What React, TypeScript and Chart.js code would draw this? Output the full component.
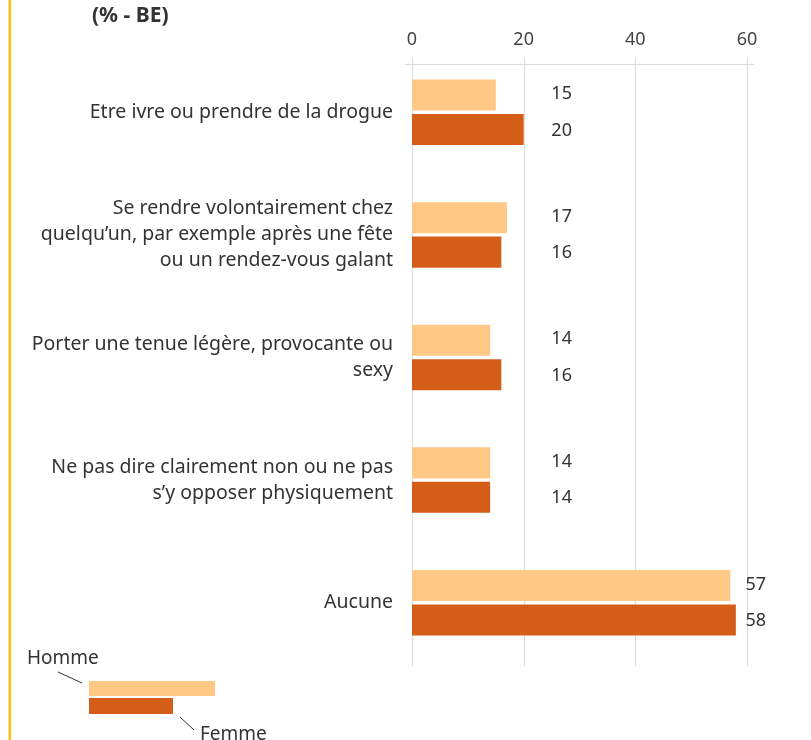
import React, { useEffect, useRef } from "react";
import Chart from "chart.js/auto";

const categories: string[][] = [
  ["Etre ivre ou prendre de la drogue"],
  ["Se rendre volontairement chez", "quelqu’un, par exemple après une fête", "ou un rendez-vous galant"],
  ["Porter une tenue légère, provocante ou", "sexy"],
  ["Ne pas dire clairement non ou ne pas", "s’y opposer physiquement"],
  ["Aucune"],
];
const hommeValues = [15, 17, 14, 14, 57];
const femmeValues = [20, 16, 16, 14, 58];
const xTicks = [0, 20, 40, 60];
const seriesNames = ["Homme", "Femme"];
const chartTitle = "(% - BE)";

const FONT = "'Noto Sans', 'Open Sans', sans-serif";
const COLOR_HOMME = "#FFC885";
const COLOR_FEMME = "#D45D17";
const TEXT = "#333333";
const GRID = "#dcdcdc";
const LABEL_COLUMN = 26.8; // value-label column (data units)

export default function App() {
  const ref = useRef<HTMLCanvasElement | null>(null);

  useEffect(() => {
    document.body.style.margin = "0";
    const canvas = ref.current;
    if (!canvas) return;

    const decor = {
      id: "decor",
      beforeDatasetsDraw(chart: any) {
        const ctx = chart.ctx;
        const xs = chart.scales.x;
        const area = chart.chartArea;
        ctx.save();
        ctx.strokeStyle = GRID;
        ctx.lineWidth = 1;
        ctx.beginPath();
        ctx.moveTo(xs.getPixelForValue(xTicks[0]) - 7, area.top + 13.5);
        ctx.lineTo(xs.getPixelForValue(xTicks[xTicks.length - 1]) + 7, area.top + 13.5);
        ctx.stroke();
        xTicks.forEach((v) => {
          const px = Math.round(xs.getPixelForValue(v)) + 0.5;
          ctx.beginPath();
          ctx.moveTo(px, area.top + 7);
          ctx.lineTo(px, area.bottom + 2);
          ctx.stroke();
        });
        ctx.restore();
      },
      afterDraw(chart: any) {
        const ctx = chart.ctx;
        const xs = chart.scales.x;
        ctx.save();
        ctx.fillStyle = "#FFC20E";
        ctx.fillRect(8.5, 0, 2.5, chart.height);
        ctx.fillStyle = TEXT;
        ctx.font = `bold 21px ${FONT}`;
        ctx.textAlign = "left";
        ctx.textBaseline = "middle";
        ctx.fillText(chartTitle, 92, 16);
        ctx.font = `18px ${FONT}`;
        ctx.textAlign = "center";
        ctx.textBaseline = "middle";
        const m0 = chart.getDatasetMeta(0);
        const m1 = chart.getDatasetMeta(1);
        categories.forEach((_, i) => {
          const b0 = m0.data[i];
          const b1 = m1.data[i];
          const end = Math.max(b0.x, b1.x);
          const cx = Math.max(xs.getPixelForValue(LABEL_COLUMN), end + 20);
          ctx.fillText(String(hommeValues[i]), cx, b0.y - 1);
          ctx.fillText(String(femmeValues[i]), cx, b1.y + 1);
        });
        ctx.font = `19px ${FONT}`;
        ctx.textAlign = "left";
        ctx.textBaseline = "alphabetic";
        ctx.fillStyle = TEXT;
        ctx.fillText(seriesNames[0], 27, 664);
        ctx.fillText(seriesNames[1], 200, 740);
        ctx.strokeStyle = "#333";
        ctx.lineWidth = 1;
        ctx.beginPath();
        ctx.moveTo(58, 672);
        ctx.lineTo(82, 683);
        ctx.moveTo(180, 717);
        ctx.lineTo(194, 730);
        ctx.stroke();
        ctx.fillStyle = COLOR_HOMME;
        ctx.fillRect(89, 681, 126, 15);
        ctx.fillStyle = COLOR_FEMME;
        ctx.fillRect(89, 698, 84, 16);
        ctx.restore();
      },
    };

    const chart = new Chart(canvas, {
      type: "bar",
      data: {
        labels: categories,
        datasets: [
          { label: seriesNames[0], data: hommeValues, backgroundColor: COLOR_HOMME, borderWidth: 0 },
          { label: seriesNames[1], data: femmeValues, backgroundColor: COLOR_FEMME, borderWidth: 0 },
        ],
      },
      options: {
        indexAxis: "y",
        animation: false,
        responsive: true,
        maintainAspectRatio: false,
        layout: { padding: { top: 0, right: 64, bottom: 76, left: 0 } },
        datasets: { bar: { categoryPercentage: 0.562, barPercentage: 0.9 } },
        plugins: { legend: { display: false }, tooltip: { enabled: false }, title: { display: false } },
        scales: {
          x: {
            position: "top",
            min: 0,
            max: 60,
            grid: { display: false, drawTicks: false },
            border: { display: false },
            afterBuildTicks: (s: any) => {
              s.ticks = xTicks.map((v) => ({ value: v }));
            },
            afterFit: (s: any) => {
              s.height = 51;
            },
            ticks: { color: "#444", font: { family: FONT, size: 18 }, padding: 0 },
          },
          y: {
            grid: { display: false, drawTicks: false },
            border: { display: false },
            afterFit: (s: any) => {
              s.width = 412;
            },
            ticks: { color: TEXT, padding: 19, font: { family: FONT, size: 19.5, lineHeight: "26px" } },
          },
        },
      },
      plugins: [decor],
    });
    return () => chart.destroy();
  }, []);

  return (
    <div style={{ width: 811, height: 740, position: "relative" }}>
      <canvas ref={ref} />
    </div>
  );
}
